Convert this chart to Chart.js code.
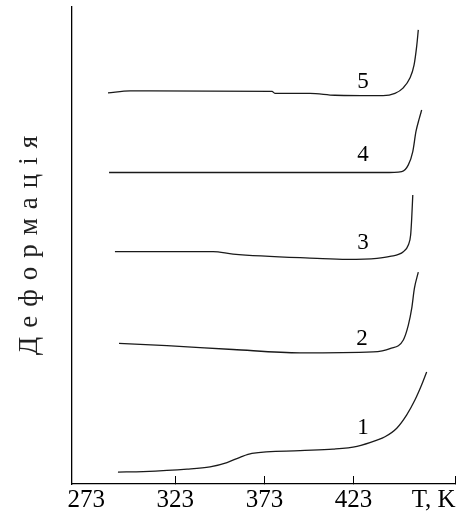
<!DOCTYPE html>
<html>
<head>
<meta charset="utf-8">
<script src="https://cdn.jsdelivr.net/npm/chart.js@4/dist/chart.umd.min.js"></script>
<style>
  html, body { margin: 0; padding: 0; background: #fff; }
  #wrap { width: 465px; height: 513px; }
</style>
</head>
<body>
<div id="wrap"><canvas id="deform-chart" width="465" height="513"></canvas></div>
<script>
'use strict';

// temperature, K / deformation, arb. units
const curve1T = [290.8, 304.9, 329.6, 342.5, 352.0, 359.3, 366.0, 393.0, 411.5, 425.0, 436.2, 440.7, 447.3, 452.9, 457.5, 461.3, 464.1];
const curve1V = [2.5, 2.6, 3.1, 3.6, 4.5, 5.6, 6.4, 7.0, 7.3, 7.9, 9.2, 9.9, 11.7, 14.5, 17.6, 20.8, 23.5];
const curve2T = [291.4, 318.3, 355.4, 393.0, 434.0, 443.5, 451.0, 453.8, 455.7, 457.2, 459.4];
const curve2V = [29.5, 29.0, 28.2, 27.5, 27.7, 28.4, 30.2, 33.3, 36.8, 41.0, 44.4];
const curve3T = [289.1, 344.2, 355.4, 402.5, 419.4, 436.2, 443.5, 451.0, 453.8, 455.1, 455.7, 456.3];
const curve3V = [48.7, 48.7, 48.2, 47.3, 47.1, 47.3, 47.7, 48.7, 50.1, 52.2, 55.7, 60.6];
const curve4T = [285.8, 364.9, 440.0, 450.1, 453.8, 456.3, 458.1, 460.0, 461.3];
const curve4V = [65.3, 65.3, 65.3, 65.5, 66.9, 69.7, 73.9, 76.7, 78.4];
const curve5T = [285.2, 297.6, 377.3, 378.9, 398.6, 412.6, 439.6, 446.3, 450.8, 454.7, 457.0, 458.5, 459.4];
const curve5V = [82.0, 82.4, 82.3, 81.9, 81.9, 81.5, 81.4, 81.9, 83.0, 85.1, 87.8, 91.8, 95.2];

const curveNames = ['1', '2', '3', '4', '5'];
const nameT = [428.4, 427.8, 428.4, 428.4, 428.4];
const nameV = [11.7, 30.4, 50.5, 69.0, 84.3];

const tickValues = [273, 323, 373, 423, 468, 480];
const tickLabels = ['273', '323', '373', '423', 'T, K', ''];
const tickMarks = [323, 373, 423, 480];

const yTitle = 'Д\u200A е\u200A ф\u200A о\u200A р\u200A м\u200A а\u200A ц\u200A і\u200A я';

const serif = 'Liberation Serif';

function toPoints(ts, vs) {
  return ts.map((t, i) => ({ x: t, y: vs[i] }));
}

// numbers next to curves
const curveNamePlugin = {
  id: 'curveNames',
  afterDatasetsDraw(chart) {
    const ctx = chart.ctx;
    const xs = chart.scales.x;
    const ys = chart.scales.y;
    ctx.save();
    ctx.font = `23px "${serif}"`;
    ctx.fillStyle = '#000';
    ctx.textAlign = 'center';
    ctx.textBaseline = 'middle';
    curveNames.forEach((n, i) => {
      ctx.fillText(n, xs.getPixelForValue(nameT[i]), ys.getPixelForValue(nameV[i]));
    });
    ctx.restore();
  },
};

function displayChart() {
  const series = [
    toPoints(curve1T, curve1V),
    toPoints(curve2T, curve2V),
    toPoints(curve3T, curve3V),
    toPoints(curve4T, curve4V),
    toPoints(curve5T, curve5V),
  ];
  const data = {
    datasets: series.map((pts) => ({
      data: pts,
      borderColor: '#1a1a1a',
      borderWidth: 1.3,
      pointRadius: 0,
      fill: false,
      cubicInterpolationMode: 'monotone',
    })),
  };
  const options = {
    responsive: false,
    animation: false,
    layout: {
      padding: { top: 7, right: 10, left: 0, bottom: 0 },
    },
    plugins: {
      legend: { display: false },
      tooltip: { enabled: false },
    },
    scales: {
      x: {
        type: 'linear',
        min: 265,
        max: 480,
        afterBuildTicks: (scale) => {
          scale.ticks = tickValues.map((v) => ({ value: v }));
        },
        afterFit: (scale) => {
          scale.height = 29;
        },
        ticks: {
          autoSkip: false,
          maxRotation: 0,
          padding: 9,
          color: '#000',
          font: { family: serif, size: 25 },
          callback: (value, index) => tickLabels[index],
        },
        grid: {
          drawOnChartArea: false,
          drawTicks: true,
          tickLength: -8,
          lineWidth: 1,
          color: (c) => (c.tick && tickMarks.includes(c.tick.value) ? '#000' : 'rgba(0,0,0,0)'),
        },
        border: { display: true, color: '#000', width: 1.3 },
      },
      y: {
        type: 'linear',
        min: 0,
        max: 100,
        afterFit: (scale) => {
          scale.width = 72;
        },
        ticks: { display: false },
        grid: { display: false, drawTicks: false },
        border: { display: true, color: '#000', width: 1.3 },
        title: {
          display: true,
          text: yTitle,
          color: '#222',
          font: { family: serif, size: 27 },
          padding: { top: 14, bottom: 0 },
        },
      },
    },
  };
  new Chart(document.getElementById('deform-chart'), {
    type: 'line',
    data: data,
    options: options,
    plugins: [curveNamePlugin],
  });
} //displayChart

displayChart();
</script>
</body>
</html>
